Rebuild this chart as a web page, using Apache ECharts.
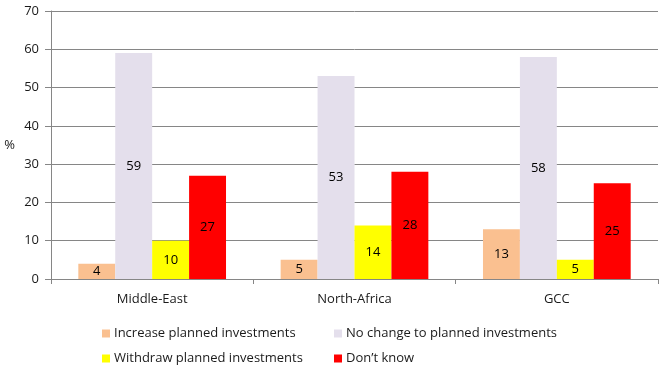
<!DOCTYPE html>
<html><head><meta charset="utf-8">
<script src="https://cdn.jsdelivr.net/npm/echarts@6/dist/echarts.min.js"></script>
<style>html,body{margin:0;padding:0;background:#fff}#c{width:670px;height:367px}</style>
</head><body><div id="c"></div>
<script>
const categories = ['Middle-East', 'North-Africa', 'GCC'];
const seriesNames = ['Increase planned investments', 'No change to planned investments', 'Withdraw planned investments', 'Don\u2019t know'];
const increase = [4, 5, 13];
const noChange = [59, 53, 58];
const withdraw = [10, 14, 5];
const dontKnow = [27, 28, 25];
const colors = ['#FAC090', '#E4DFEC', '#FFFF00', '#FF0000'];
const yTicks = [0, 10, 20, 30, 40, 50, 60, 70];

const font = 'Open Sans';
const values = [increase, noChange, withdraw, dontKnow];
const chart = echarts.init(document.getElementById('c'));
const legendPos = [[97, 322], [329, 322], [97, 347], [329, 347]];
chart.setOption({
  animation: false,
  color: colors,
  textStyle: { fontFamily: font },
  grid: { left: 51, right: 12, top: 11, bottom: 88 },
  legend: seriesNames.map((n, i) => ({
    data: [n], left: legendPos[i][0], top: legendPos[i][1],
    itemWidth: 8, itemHeight: 8, icon: 'rect', itemGap: 4,
    textStyle: { fontFamily: font, fontSize: 13, color: '#1a1a1a', padding: [0, 0, 0, -1] }
  })),
  xAxis: {
    type: 'category', data: categories,
    axisLine: { lineStyle: { color: '#868686', width: 1 } },
    axisTick: { show: true, length: 5, lineStyle: { color: '#868686' } },
    axisLabel: { fontFamily: font, fontSize: 13, color: '#1a1a1a', margin: 14 }
  },
  yAxis: {
    type: 'value', min: yTicks[0], max: yTicks[yTicks.length - 1], interval: 10,
    name: '%', nameLocation: 'middle', nameRotate: 0, nameGap: 36,
    nameTextStyle: { fontFamily: font, fontSize: 13, color: '#1a1a1a' },
    axisLine: { show: true, lineStyle: { color: '#868686' } },
    axisTick: { show: true, length: 6, lineStyle: { color: '#868686' } },
    splitLine: { lineStyle: { color: '#868686', width: 1 } },
    axisLabel: { fontFamily: font, fontSize: 13, color: '#1a1a1a', margin: 12 }
  },
  series: seriesNames.map((n, i) => ({
    name: n, type: 'bar', data: values[i],
    barGap: '0%', barCategoryGap: '27%',
    itemStyle: { color: colors[i] },
    label: { show: true, position: 'inside', fontFamily: font, fontSize: 13, color: '#000' }
  }))
});
</script></body></html>
